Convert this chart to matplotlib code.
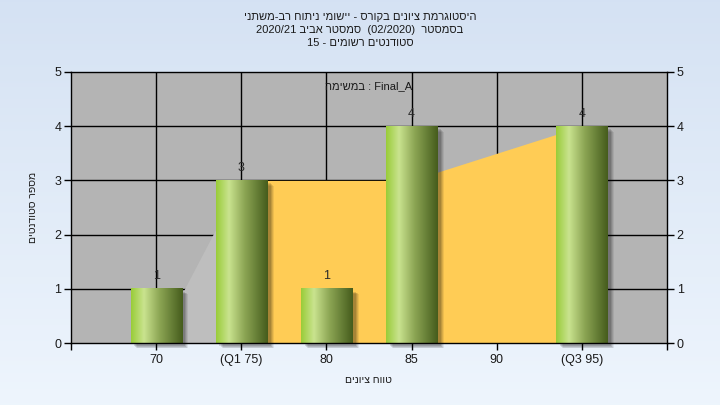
import numpy as np
import matplotlib
matplotlib.use("Agg")
import matplotlib.pyplot as plt
from matplotlib.patches import Rectangle
from matplotlib.colors import LinearSegmentedColormap

plt.rcParams['font.family'] = ['Liberation Sans', 'DejaVu Sans']

# ---- data ----
categories = ['70', '(Q1 75)', '80', '85', '90', '(Q3 95)']
counts = [1, 3, 1, 4, 0, 4]
outer_x = [0, 1]          # area below Q1 (category index)
outer_y = [0, 3]
iqr_x = [1, 3, 5]         # inter-quartile area (category index)
iqr_y = [3, 3, 4]
y_ticks = [0, 1, 2, 3, 4, 5]

title1 = "היסטוגרמת ציונים בקורס - יישומי ניתוח רב-משתני"
title2_parts = ("בסמסטר", "(02/2020)", "סמסטר אביב", "2020/21")
title3_parts = ("סטודנטים רשומים", "15")
note_parts = ("במשימה", "Final_A")
xlabel = "טווח ציונים"
ylabel = "מספר סטודנטים"


def rtl(s):
    return s[::-1]


line1 = rtl(title1)
line2 = title2_parts[3] + " " + rtl(title2_parts[2]) + "  " + title2_parts[1] + "  " + rtl(title2_parts[0])
line3 = title3_parts[1] + " - " + rtl(title3_parts[0])
note = rtl(note_parts[0]) + " : " + note_parts[1]

W, H = 720, 405
fig = plt.figure(figsize=(W / 100, H / 100), dpi=100)

# background gradient
bg = fig.add_axes([0, 0, 1, 1], zorder=-10)
grad = np.linspace(0, 1, 256).reshape(-1, 1)
bg_cmap = LinearSegmentedColormap.from_list('bg', [(0.835, 0.886, 0.953), (0.933, 0.961, 0.992)])
bg.imshow(grad, aspect='auto', cmap=bg_cmap, extent=[0, 1, 0, 1], origin='upper')
bg.set_axis_off()

left, right, top, bottom = 71, 667, 72, 343
ax = fig.add_axes([left / W, 1 - bottom / H, (right - left) / W, (bottom - top) / H])
ax.set_facecolor('#b4b4b4')

x = np.arange(len(categories))

# areas
ax.fill_between(outer_x, 0, outer_y, color='#bebebe', lw=0, zorder=2)
ax.fill_between(iqr_x, 0, iqr_y, color='#ffcc55', lw=0, zorder=2)

# bars with gradient + shadow
bar_w = 0.6
bar_cmap = LinearSegmentedColormap.from_list(
    'bar', [(0.0, (0.60, 0.80, 0.22)), (0.25, (0.79, 0.89, 0.56)),
            (0.55, (0.55, 0.65, 0.33)), (1.0, (0.27, 0.36, 0.11))])
bar_grad = np.linspace(0, 1, 256).reshape(1, -1)
for xi, c in zip(x, counts):
    if c <= 0:
        continue
    for k, a in enumerate([0.07, 0.09, 0.11, 0.13]):
        dx = 0.08 - k * 0.012
        dy = 0.10 - k * 0.015
        ax.add_patch(Rectangle((xi - bar_w / 2 + dx, -dy), bar_w, c, color='black',
                               alpha=a, lw=0, zorder=3, clip_on=False))
    ax.imshow(bar_grad, cmap=bar_cmap, aspect='auto',
              extent=[xi - bar_w / 2, xi + bar_w / 2, 0, c], zorder=4)
    ax.text(xi, c + 0.12, str(c), ha='center', va='bottom', fontsize=9, color='#2a2a2a', zorder=5)

ax.set_xlim(-1, 6)
ax.set_ylim(0, 5)

ax.set_xticks(np.arange(-1, 7))
ax.set_xticklabels([''] + categories + [''])
ax.set_yticks(y_ticks)
ax.tick_params(axis='both', length=5, width=1, color='black', labelsize=9, labelcolor='#1a1a1a')
ax.tick_params(axis='y', right=True, labelright=True, pad=2)
ax.tick_params(axis='x', pad=3)

for v in x:
    ax.axvline(v, color='black', lw=1, zorder=1)
for v in y_ticks[1:-1]:
    ax.axhline(v, color='black', lw=1, zorder=1)
for s in ax.spines.values():
    s.set_color('black')
    s.set_linewidth(1)
    s.set_zorder(6)

ax.text(2.5, 4.74, note, ha='center', va='center', fontsize=8, color='#1a1a1a', zorder=5)

fig.text(0.5, 1 - 17 / H, line1, ha='center', va='center', fontsize=8, color='#1a1a1a')
fig.text(0.5, 1 - 30 / H, line2, ha='center', va='center', fontsize=8, color='#1a1a1a')
fig.text(0.5, 1 - 43 / H, line3, ha='center', va='center', fontsize=8, color='#1a1a1a')
fig.text(368 / W, 1 - 380 / H, rtl(xlabel), ha='center', va='center', fontsize=7.5, color='#1a1a1a')
fig.text(33 / W, 1 - 207 / H, rtl(ylabel), ha='center', va='center', fontsize=7.5, color='#1a1a1a', rotation=90)

fig.savefig('out.png', dpi=100)
